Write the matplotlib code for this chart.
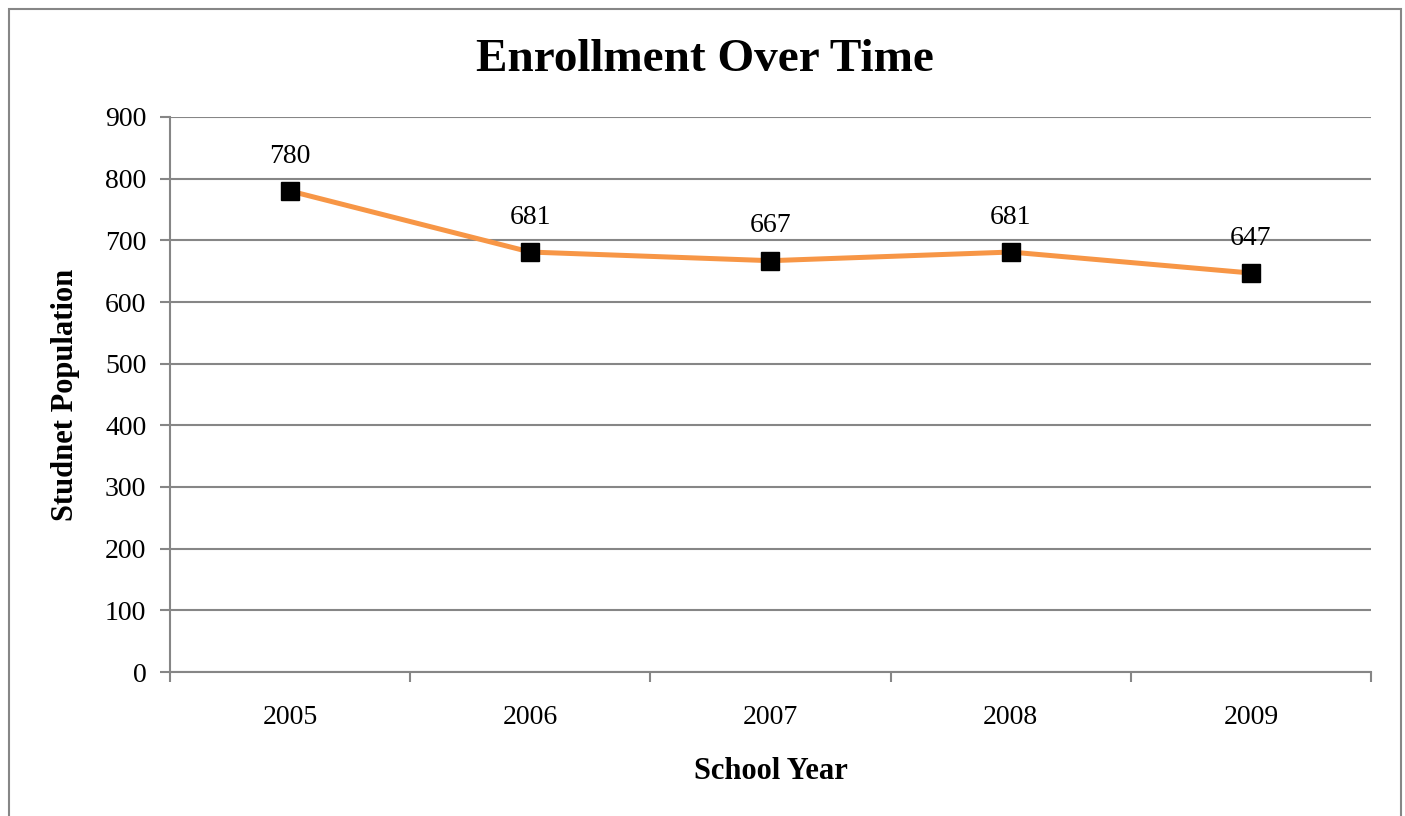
import matplotlib
matplotlib.use("Agg")
import matplotlib.pyplot as plt
from matplotlib.patches import Rectangle
from matplotlib.ticker import FixedLocator

# ---------- data ----------
years = ["2005", "2006", "2007", "2008", "2009"]
students = [780, 681, 667, 681, 647]
y_ticks = list(range(0, 1000, 100))

GRAY = "#868686"
ORANGE = "#F79646"
plt.rcParams["font.family"] = ["Liberation Serif", "DejaVu Serif"]

fig = plt.figure(figsize=(14.05, 8.16), dpi=100)
ax = fig.add_axes([170/1405, 1-672/816, (1371-170)/1405, (672-117)/816])

# outer chart border (bottom edge runs off the image)
fig.patches.append(Rectangle((9/1405, -0.05), (1401-9)/1405, 1-9/816+0.05,
                             transform=fig.transFigure, fill=False,
                             edgecolor=GRAY, linewidth=1.5))

x = list(range(len(years)))
ax.plot(x, students, color=ORANGE, linewidth=3.6, marker="s",
        markersize=13, markerfacecolor="black", markeredgecolor="black",
        zorder=3, clip_on=False)
for xi, v in zip(x, students):
    ax.annotate(str(v), (xi, v), xytext=(0, 16), textcoords="offset points",
                ha="center", va="bottom", fontsize=20, color="black")

ax.set_xlim(-0.5, len(years)-0.5)
ax.set_ylim(0, 900)
ax.set_yticks(y_ticks)
ax.set_xticks(x)
ax.set_xticklabels(years, fontsize=20)
ax.xaxis.set_minor_locator(FixedLocator([i-0.5 for i in range(len(years)+1)]))
ax.tick_params(axis="x", which="major", length=0, pad=24)
ax.tick_params(axis="x", which="minor", length=7, width=1.5, color=GRAY)
ax.tick_params(axis="y", length=7, width=1.5, color=GRAY, labelsize=20, pad=10)

ax.grid(axis="y", color=GRAY, linewidth=1.5)
ax.set_axisbelow(True)
for s in ["top", "right"]:
    ax.spines[s].set_visible(False)
for s in ["left", "bottom"]:
    ax.spines[s].set_color(GRAY)
    ax.spines[s].set_linewidth(1.5)

ax.set_xlabel("School Year", fontsize=22, fontweight="bold", labelpad=19)
ax.set_ylabel("Studnet Population", fontsize=22, fontweight="bold", labelpad=18)
fig.text(705/1405, 1-60/816, "Enrollment Over Time", ha="center", va="center",
         fontsize=34, fontweight="bold")

fig.savefig("out.png", dpi=100, facecolor="white")
